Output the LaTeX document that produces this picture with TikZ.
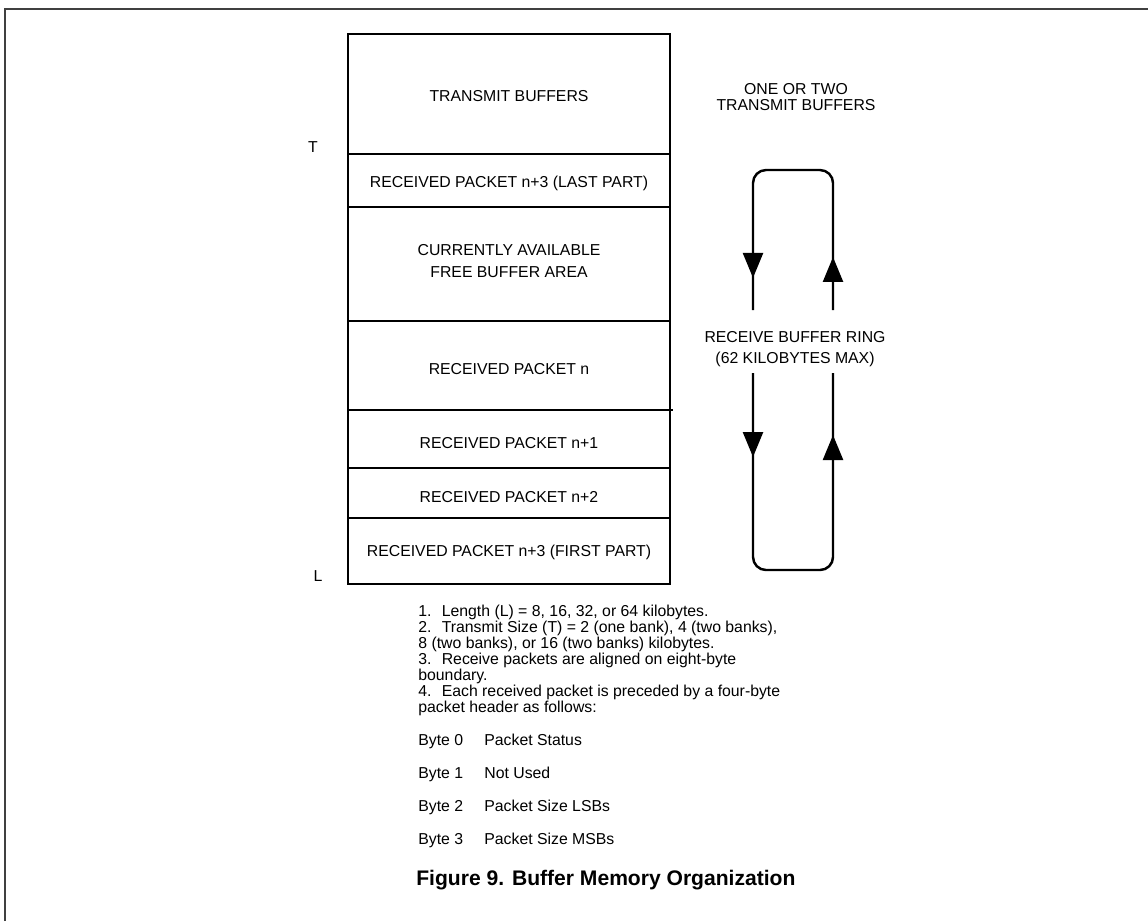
\documentclass[tikz,border=0pt]{standalone}
\usepackage{fontspec}
\setmainfont{Liberation Sans}
\usetikzlibrary{arrows.meta,decorations.markings}
\begin{document}
\begin{tikzpicture}[x=0.02cm,y=-0.02cm,font=\fontsize{9}{12}\selectfont,
  memline/.style={line width=0.8pt},
  ringline/.style={line width=1.4pt,rounded corners=0.26cm},
  ringheads/.style 2 args={postaction={decorate},decoration={markings,
    mark=at position #1 with {\arrow{Triangle[width=0.4cm,length=0.5cm]}},
    mark=at position #2 with {\arrow{Triangle[width=0.4cm,length=0.5cm]}}}},
  notes/.style={anchor=base west,inner sep=0pt}]
\useasboundingbox (0,0) rectangle (1148,921);
% page frame
\draw[line width=1pt,black!75] (5,921) -- (5,9) -- (1148,9);
% memory map
\draw[memline] (348,34) rectangle (670,584);
\foreach \y in {154,207,321,468,518}
  \draw[memline] (348,\y) -- (670,\y);
\draw[memline] (348,410) -- (673,410);
\node (txbuf) at (509,96) {TRANSMIT BUFFERS};
\node (rxlast) at (509,183) {RECEIVED PACKET n+3 (LAST PART)};
\node[align=center,font=\fontsize{9}{12.5}\selectfont] (free) at (509,261) {CURRENTLY AVAILABLE\\FREE BUFFER AREA};
\node (rxn) at (509,369) {RECEIVED PACKET n};
\node (rxn1) at (509,443) {RECEIVED PACKET n+1};
\node (rxn2) at (509,497) {RECEIVED PACKET n+2};
\node (rxfirst) at (509,552) {RECEIVED PACKET n+3 (FIRST PART)};
\node (tlbl) at (313,147) {T};
\node (llbl) at (318,576) {L};
% receive ring
\node[align=center,font=\fontsize{9}{9}\selectfont] (txnote) at (796,97) {ONE OR TWO\\TRANSMIT BUFFERS};
\node[align=center] (ringlbl) at (795,349) {RECEIVE BUFFER RING\\(62 KILOBYTES MAX)};
\draw[ringline,ringheads={0.152}{0.908}] (833,310) -- (833,170) -- (753,170) -- (753,310);
\draw[ringline,ringheads={0.1815}{0.866}] (753,373) -- (753,570) -- (833,570) -- (833,373);
% notes
\node[anchor=north west,inner sep=0pt,align=left,font=\fontsize{9}{9.1}\selectfont] (notes) at (418,605)
  {1.~ Length (L) = 8, 16, 32, or 64 kilobytes.\\
   2.~ Transmit Size (T) = 2 (one bank), 4 (two banks),\\
   8 (two banks), or 16 (two banks) kilobytes.\\
   3.~ Receive packets are aligned on eight-byte\\
   boundary.\\
   4.~ Each received packet is preceded by a four-byte\\
   packet header as follows:};
\node[notes] (b0) at (418,745) {Byte 0};
\node[notes] (b0d) at (484,745) {Packet Status};
\node[notes] (b1) at (418,778) {Byte 1};
\node[notes] (b1d) at (484,778) {Not Used};
\node[notes] (b2) at (418,811) {Byte 2};
\node[notes] (b2d) at (484,811) {Packet Size LSBs};
\node[notes] (b3) at (418,844) {Byte 3};
\node[notes] (b3d) at (484,844) {Packet Size MSBs};
\node[anchor=west,inner sep=0pt,font=\bfseries\fontsize{12}{14}\selectfont] (caption) at (416,880) {Figure 9. Buffer Memory Organization};
\end{tikzpicture}
\end{document}
